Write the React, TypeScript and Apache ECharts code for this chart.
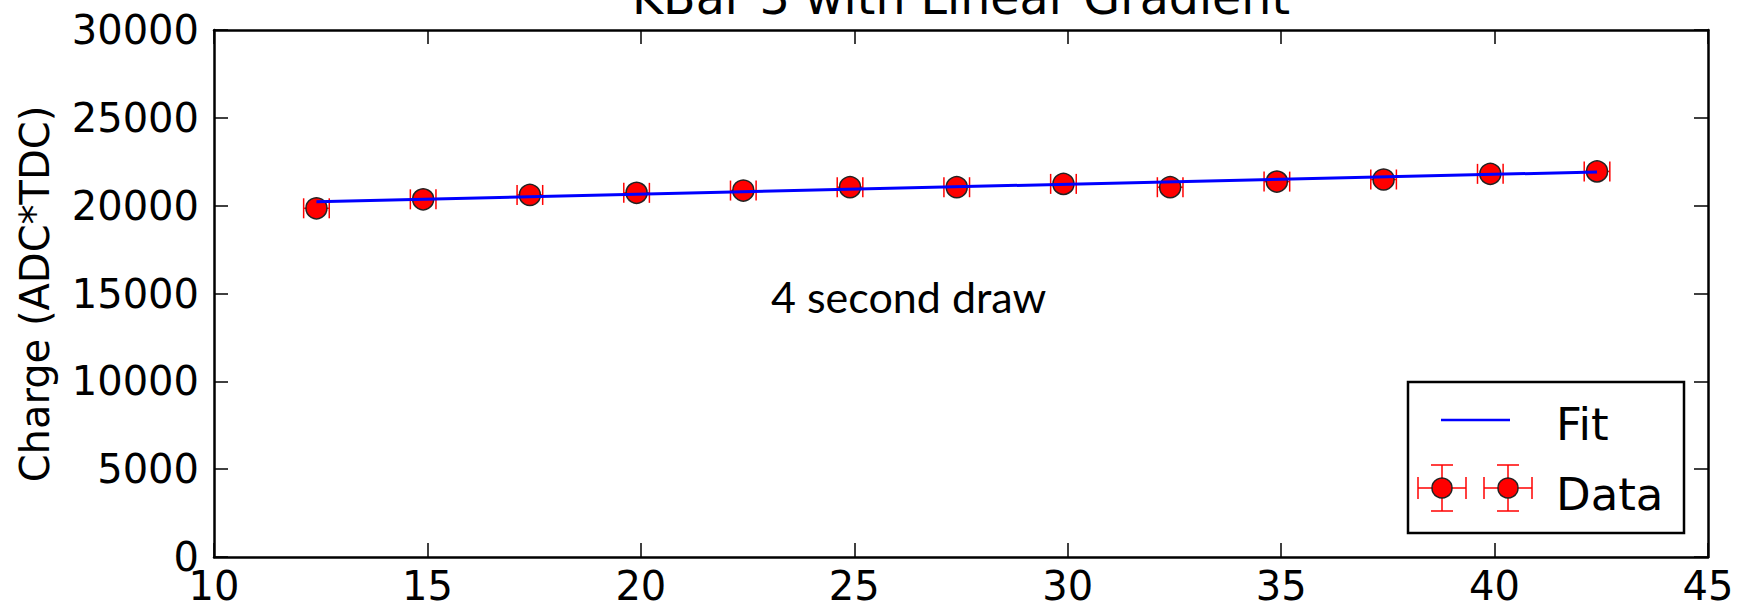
import React, { useEffect, useRef } from 'react';
import * as echarts from 'echarts';

const titleText = 'KBar 3 with Linear Gradient';
const yAxisTitle = 'Charge (ADC*TDC)';
const annotationText = '4 second draw';
const legendFit = 'Fit';
const legendData = 'Data';

const dataX = [12.4, 14.9, 17.4, 19.9, 22.4, 24.9, 27.4, 29.9, 32.4, 34.9, 37.4, 39.9, 42.4];
const dataY = [19850, 20360, 20610, 20730, 20860, 21050, 21050, 21240, 21050, 21370, 21490, 21810, 21950];
const dataXErr = [0.3, 0.3, 0.3, 0.3, 0.3, 0.3, 0.3, 0.3, 0.3, 0.3, 0.3, 0.3, 0.3];
const fitX = [12.4, 42.4];
const fitY = [20230, 21920];

const FONT = 'DejaVu Sans';

export default function App() {
  const ref = useRef<HTMLDivElement>(null);
  useEffect(() => {
    if (!ref.current) return;
    const chart = echarts.init(ref.current, undefined, { renderer: 'svg' });
    const axisLineStyle = { color: '#000', width: 2.5 };
    const tickStyle = { color: '#000', width: 1.5 };
    const xBase = {
      type: 'value', min: 10, max: 45, interval: 5,
      splitLine: { show: false },
      axisTick: { show: true, inside: true, length: 14, lineStyle: tickStyle },
      axisLine: { show: true, onZero: false, lineStyle: axisLineStyle },
    };
    const yBase = {
      type: 'value', min: 0, max: 30000, interval: 5000,
      splitLine: { show: false },
      axisTick: { show: true, inside: true, length: 14, lineStyle: tickStyle },
      axisLine: { show: true, onZero: false, lineStyle: axisLineStyle },
    };

    const red = '#ff0000';
    const legendMarker = (cx: number, cy: number) => [
      { type: 'line', shape: { x1: cx - 24, y1: cy, x2: cx + 24, y2: cy }, style: { stroke: red, lineWidth: 1.5 } },
      { type: 'line', shape: { x1: cx - 24, y1: cy - 11, x2: cx - 24, y2: cy + 11 }, style: { stroke: red, lineWidth: 1.5 } },
      { type: 'line', shape: { x1: cx + 24, y1: cy - 11, x2: cx + 24, y2: cy + 11 }, style: { stroke: red, lineWidth: 1.5 } },
      { type: 'line', shape: { x1: cx, y1: cy - 23, x2: cx, y2: cy + 23 }, style: { stroke: red, lineWidth: 1.5 } },
      { type: 'line', shape: { x1: cx - 11, y1: cy - 23, x2: cx + 11, y2: cy - 23 }, style: { stroke: red, lineWidth: 1.5 } },
      { type: 'line', shape: { x1: cx - 11, y1: cy + 23, x2: cx + 11, y2: cy + 23 }, style: { stroke: red, lineWidth: 1.5 } },
      { type: 'circle', shape: { cx, cy, r: 10 }, style: { fill: red, stroke: '#222', lineWidth: 1.5 } },
    ];

    chart.setOption({
      animation: false,
      backgroundColor: '#ffffff',
      grid: { left: 214, top: 30, width: 1494, height: 527, containLabel: false, outerBoundsMode: 'none' },
      xAxis: [
        { ...xBase, position: 'bottom', axisLabel: { color: '#000', fontSize: 40, fontFamily: FONT, margin: 9, formatter: (v: number) => String(v) } },
        { ...xBase, position: 'top', axisLabel: { show: false } },
      ],
      yAxis: [
        { ...yBase, position: 'left', axisLabel: { color: '#000', fontSize: 40, fontFamily: FONT, margin: 15, formatter: (v: number) => String(v) } },
        { ...yBase, position: 'right', axisLabel: { show: false } },
      ],
      series: [
        {
          type: 'custom',
          xAxisIndex: 0, yAxisIndex: 0,
          z: 1,
          data: dataX.map((x, i) => [x, dataY[i], dataXErr[i]]),
          renderItem: (params: any, api: any) => {
            const x = api.value(0), y = api.value(1), e = api.value(2);
            const p0 = api.coord([x - e, y]);
            const p1 = api.coord([x + e, y]);
            const cap = 10;
            const st = { stroke: red, lineWidth: 1.5 };
            return {
              type: 'group',
              children: [
                { type: 'line', shape: { x1: p0[0], y1: p0[1], x2: p1[0], y2: p1[1] }, style: st },
                { type: 'line', shape: { x1: p0[0], y1: p0[1] - cap, x2: p0[0], y2: p0[1] + cap }, style: st },
                { type: 'line', shape: { x1: p1[0], y1: p1[1] - cap, x2: p1[0], y2: p1[1] + cap }, style: st },
              ],
            };
          },
        },
        {
          type: 'scatter',
          name: legendData,
          z: 2,
          symbol: 'circle',
          symbolSize: 21,
          itemStyle: { color: red, borderColor: '#222', borderWidth: 1.5, opacity: 1 },
          data: dataX.map((x, i) => [x, dataY[i]]),
        },
        {
          type: 'line',
          name: legendFit,
          z: 3,
          showSymbol: false,
          symbol: 'none',
          lineStyle: { color: '#0000ff', width: 3 },
          data: fitX.map((x, i) => [x, fitY[i]]),
        },
      ],
      graphic: [
        {
          type: 'text', x: 961, y: -3, z: 10,
          style: { text: titleText, font: `47.5px "${FONT}"`, fill: '#000', textAlign: 'center', textVerticalAlign: 'middle' },
        },
        {
          type: 'text', x: 35, y: 294, rotation: Math.PI / 2, z: 10,
          style: { text: yAxisTitle, font: `40px "${FONT}"`, fill: '#000', textAlign: 'center', textVerticalAlign: 'middle' },
        },
        {
          type: 'text', x: 771, y: 296, z: 10,
          style: { text: annotationText, font: '43px Lato', fill: '#000', textAlign: 'left', textVerticalAlign: 'middle' },
        },
        {
          type: 'group', z: 20,
          children: [
            { type: 'rect', shape: { x: 1408, y: 382, width: 276, height: 151 }, style: { fill: '#fff', stroke: '#000', lineWidth: 2.5 } },
            { type: 'line', shape: { x1: 1441, y1: 420, x2: 1510, y2: 420 }, style: { stroke: '#0000ff', lineWidth: 2.5 } },
            { type: 'text', x: 1556, y: 424, style: { text: legendFit, font: `45px "${FONT}"`, fill: '#000', textAlign: 'left', textVerticalAlign: 'middle' } },
            ...legendMarker(1442, 488),
            ...legendMarker(1508, 488),
            { type: 'text', x: 1556, y: 494, style: { text: legendData, font: `45px "${FONT}"`, fill: '#000', textAlign: 'left', textVerticalAlign: 'middle' } },
          ],
        },
      ],
    });
    return () => chart.dispose();
  }, []);
  return <div ref={ref} style={{ position: 'fixed', left: 0, top: 0, width: 1737, height: 613, background: '#fff' }} />;
}
